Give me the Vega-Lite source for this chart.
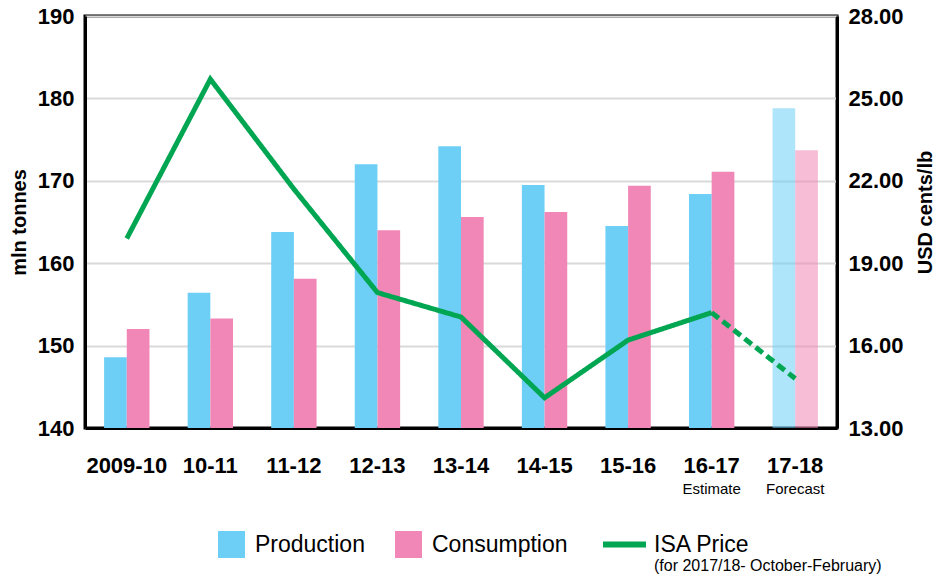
{
  "$schema": "https://vega.github.io/schema/vega-lite/v6.json",
  "width": 752,
  "height": 412,
  "padding": {"left": 9, "top": 5, "right": 5, "bottom": 5},
  "background": "white",
  "config": {
    "font": "Liberation Sans",
    "view": {"stroke": "#000", "strokeWidth": 3}
  },
  "datasets": {
    "bars": [
      {"season": "2009-10", "series": "Production", "value": 148.6},
      {"season": "2009-10", "series": "Consumption", "value": 152.0},
      {"season": "10-11", "series": "Production", "value": 156.4},
      {"season": "10-11", "series": "Consumption", "value": 153.3},
      {"season": "11-12", "series": "Production", "value": 163.8},
      {"season": "11-12", "series": "Consumption", "value": 158.1},
      {"season": "12-13", "series": "Production", "value": 172.0},
      {"season": "12-13", "series": "Consumption", "value": 164.0},
      {"season": "13-14", "series": "Production", "value": 174.2},
      {"season": "13-14", "series": "Consumption", "value": 165.6},
      {"season": "14-15", "series": "Production", "value": 169.5},
      {"season": "14-15", "series": "Consumption", "value": 166.2},
      {"season": "15-16", "series": "Production", "value": 164.5},
      {"season": "15-16", "series": "Consumption", "value": 169.4},
      {"season": "16-17", "series": "Production", "value": 168.4},
      {"season": "16-17", "series": "Consumption", "value": 171.1},
      {"season": "17-18", "series": "Production", "value": 178.8},
      {"season": "17-18", "series": "Consumption", "value": 173.7}
    ],
    "price": [
      {"season": "2009-10", "price": 19.9, "seg": "actual", "i": 1},
      {"season": "10-11", "price": 25.7, "seg": "actual", "i": 2},
      {"season": "11-12", "price": 21.7, "seg": "actual", "i": 3},
      {"season": "12-13", "price": 17.93, "seg": "actual", "i": 4},
      {"season": "13-14", "price": 17.04, "seg": "actual", "i": 5},
      {"season": "14-15", "price": 14.1, "seg": "actual", "i": 6},
      {"season": "15-16", "price": 16.2, "seg": "actual", "i": 7},
      {"season": "16-17", "price": 17.2, "seg": "actual", "i": 8},
      {"season": "16-17", "price": 17.2, "seg": "forecast", "i": 8},
      {"season": "17-18", "price": 14.8, "seg": "forecast", "i": 9}
    ]
  },
  "title": {
    "text": "(for 2017/18- October-February)",
    "orient": "bottom",
    "anchor": "start",
    "frame": "group",
    "dx": 569,
    "offset": 0,
    "fontSize": 16,
    "fontWeight": "normal",
    "color": "#000",
    "font": "Liberation Sans"
  },
  "layer": [
    {
      "data": {"name": "bars"},
      "mark": {"type": "bar", "clip": true},
      "encoding": {
        "x": {
          "field": "season",
          "type": "nominal",
          "scale": {
            "domain": ["2009-10", "10-11", "11-12", "12-13", "13-14", "14-15", "15-16", "16-17", "17-18"],
            "paddingInner": 0.457,
            "paddingOuter": 0.2285
          },
          "axis": {
            "title": null,
            "orient": "bottom",
            "domain": true,
            "domainColor": "#000",
            "domainWidth": 3,
            "ticks": false,
            "grid": false,
            "labelAngle": 0,
            "labelFontSize": 22,
            "labelFontWeight": "bold",
            "labelColor": "#000",
            "labelPadding": 27
          }
        },
        "xOffset": {
          "field": "series",
          "type": "nominal",
          "sort": ["Production", "Consumption"],
          "scale": {"paddingInner": 0, "paddingOuter": 0}
        },
        "y": {
          "field": "value",
          "type": "quantitative",
          "scale": {"domain": [140, 190], "zero": false, "nice": false},
          "axis": {
            "orient": "left",
            "values": [140, 150, 160, 170, 180, 190],
            "title": "mln tonnes",
            "titleFontSize": 20,
            "titleFontWeight": "bold",
            "titleColor": "#000",
            "titlePadding": 8,
            "domain": true,
            "domainColor": "#000",
            "domainWidth": 3,
            "ticks": false,
            "labelFontSize": 22,
            "labelFontWeight": "bold",
            "labelColor": "#000",
            "labelPadding": 11,
            "grid": true,
            "gridColor": "#D9D9D9",
            "gridWidth": 2
          }
        },
        "y2": {"datum": 140},
        "color": {
          "field": "series",
          "type": "nominal",
          "scale": {"domain": ["Production", "Consumption"], "range": ["#6DCFF6", "#F087B6"]},
          "legend": {
            "orient": "none",
            "legendX": 133,
            "legendY": 515,
            "direction": "horizontal",
            "title": null,
            "symbolType": "square",
            "symbolSize": 729,
            "symbolStrokeWidth": 0,
            "symbolOpacity": 1,
            "labelFontSize": 23,
            "labelColor": "#000",
            "labelOffset": 10,
            "columnPadding": 30
          }
        },
        "opacity": {
          "condition": {"test": "datum.season === '17-18'", "value": 0.55},
          "value": 1
        }
      }
    },
    {
      "data": {"name": "price"},
      "mark": {"type": "line", "strokeWidth": 5},
      "encoding": {
        "x": {
          "field": "season",
          "type": "nominal",
          "axis": {
            "title": null,
            "orient": "bottom",
            "domain": false,
            "ticks": false,
            "grid": false,
            "labelAngle": 0,
            "labelFontSize": 15,
            "labelFontWeight": "normal",
            "labelColor": "#000",
            "labelPadding": 53,
            "labelExpr": "datum.value == '16-17' ? 'Estimate' : (datum.value == '17-18' ? 'Forecast' : '')"
          }
        },
        "y": {
          "field": "price",
          "type": "quantitative",
          "scale": {"domain": [13, 28], "zero": false, "nice": false},
          "axis": {
            "orient": "right",
            "values": [13, 16, 19, 22, 25, 28],
            "format": ".2f",
            "title": "USD cents/lb",
            "titleAngle": -90,
            "titleBaseline": "top",
            "titleY": 196,
            "titleFontSize": 20,
            "titleFontWeight": "bold",
            "titleColor": "#000",
            "titlePadding": 12,
            "domain": true,
            "domainColor": "#000",
            "domainWidth": 3,
            "ticks": false,
            "grid": false,
            "labelFontSize": 22,
            "labelFontWeight": "bold",
            "labelColor": "#000",
            "labelPadding": 11
          }
        },
        "order": {"field": "i", "type": "quantitative"},
        "strokeDash": {
          "field": "seg",
          "type": "nominal",
          "scale": {"domain": ["actual", "forecast"], "range": [[1, 0], [9, 5]]},
          "legend": null
        },
        "stroke": {
          "datum": "ISA Price",
          "scale": {"range": ["#00A651"]},
          "legend": {
            "orient": "none",
            "legendX": 515,
            "legendY": 504,
            "title": null,
            "symbolType": "stroke",
            "symbolSize": 1849,
            "symbolStrokeWidth": 6,
            "labelFontSize": 23,
            "labelColor": "#000",
            "labelOffset": 5
          }
        }
      }
    }
  ],
  "resolve": {
    "scale": {"y": "independent"},
    "axis": {"x": "independent", "y": "independent"}
  }
}
